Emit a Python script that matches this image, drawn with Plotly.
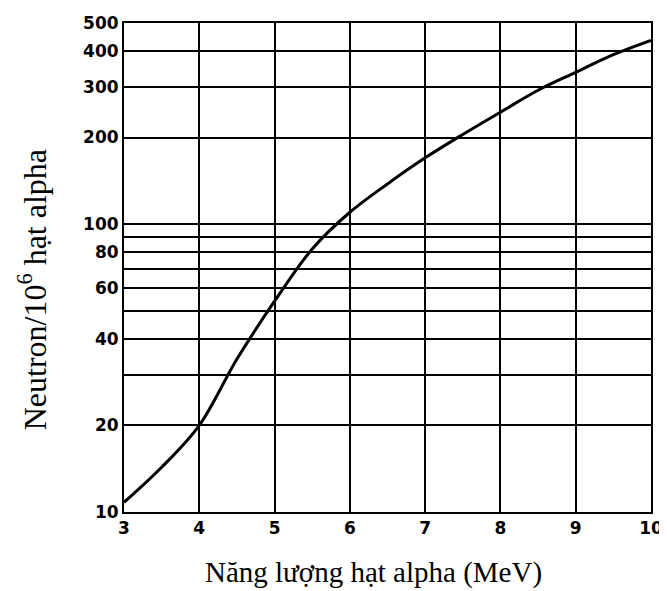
import plotly.graph_objects as go

# Data
energy_mev = [3.0, 3.5, 4.0, 4.5, 5.0, 5.5, 6.0, 6.5, 7.0, 7.5, 8.0, 8.5, 9.0, 9.5, 10.0]
neutrons = [10.8, 14.3, 20, 34, 54, 82, 110, 138, 170, 205, 245, 292, 337, 388, 435]

x_ticks = [3, 4, 5, 6, 7, 8, 9, 10]
y_labelled = [10, 20, 40, 60, 80, 100, 200, 300, 400, 500]
y_grid = [10, 20, 30, 40, 50, 60, 70, 80, 90, 100, 200, 300, 400, 500]

fig = go.Figure()
fig.add_trace(go.Scatter(
    x=energy_mev, y=neutrons, mode="lines",
    line=dict(color="black", width=3, shape="spline", smoothing=1.0),
    showlegend=False, hoverinfo="skip",
))
# invisible trace so the grid-only overlay axis is drawn
fig.add_trace(go.Scatter(
    x=energy_mev, y=neutrons, yaxis="y2", mode="lines",
    line=dict(color="rgba(0,0,0,0)", width=0),
    showlegend=False, hoverinfo="skip",
))

tickfont = dict(family="DejaVu Sans", size=17, color="black", weight="bold")
log_range = [1, 2.69897]

# The page body has an 8 px offset, so the figure is 8 px smaller and margins shifted
fig.update_layout(
    width=659, height=583,
    margin=dict(l=116, r=16, t=15, b=79, autoexpand=False),
    paper_bgcolor="white", plot_bgcolor="white",
    xaxis=dict(
        range=[3, 10], tickvals=x_ticks, ticktext=[str(v) for v in x_ticks],
        showgrid=True, gridcolor="black", gridwidth=1.6,
        showline=True, linecolor="black", linewidth=2, mirror=True,
        zeroline=False, ticks="", tickfont=tickfont,
    ),
    yaxis=dict(
        type="log", range=log_range, tickvals=y_labelled,
        ticktext=[str(v) for v in y_labelled],
        showgrid=False,
        showline=True, linecolor="black", linewidth=2, mirror=True,
        zeroline=False, ticks="", tickfont=tickfont,
    ),
    yaxis2=dict(
        type="log", range=log_range, tickvals=y_grid, overlaying="y", side="left",
        showgrid=True, gridcolor="black", gridwidth=1.6,
        showticklabels=False, showline=False, zeroline=False, ticks="",
    ),
    annotations=[
        dict(text="Năng lượng hạt alpha (MeV)", xref="paper", yref="paper",
             x=0.4725, y=-0.1227, xanchor="center", yanchor="middle", showarrow=False,
             font=dict(family="Liberation Serif", size=29, color="black")),
        dict(text="Neutron/10<sup>6</sup> hạt alpha", xref="paper", yref="paper",
             x=-0.174, y=0.454, xanchor="center", yanchor="middle", showarrow=False,
             textangle=-90,
             font=dict(family="Liberation Serif", size=32, color="black")),
    ],
)

fig.write_html("out.html")
